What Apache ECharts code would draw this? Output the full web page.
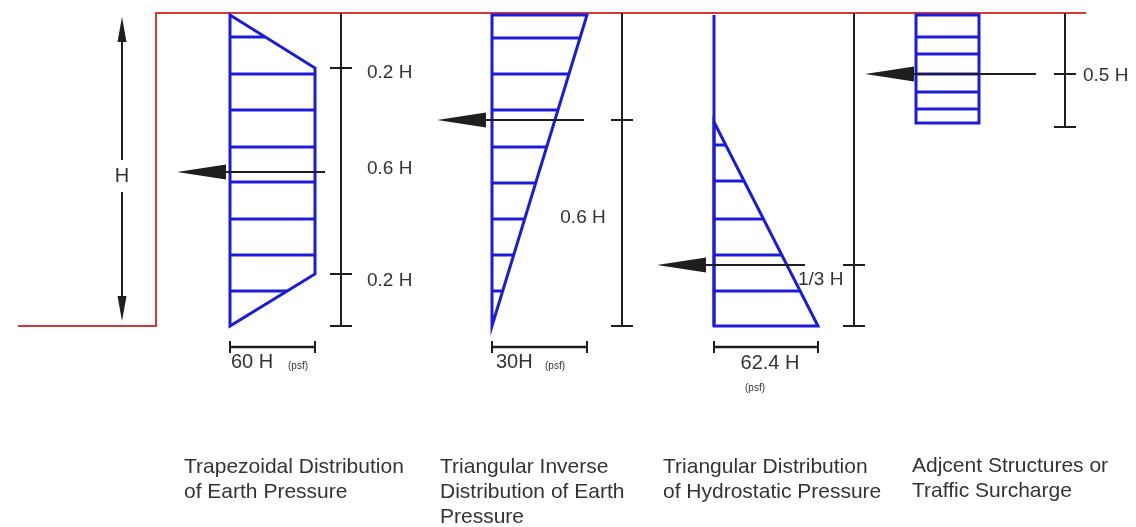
<!DOCTYPE html>
<html>
<head>
<meta charset="utf-8">
<script src="https://cdn.jsdelivr.net/npm/echarts@6/dist/echarts.min.js"></script>
<style>
html,body{margin:0;padding:0;background:#fff;}
#chart{width:1136px;height:527px;}
</style>
</head>
<body>
<div id="chart"></div>
<script>
// ---- data (diagram units = picture pixels) ----
const groundLine = [[18,326],[156,326],[156,13],[1086,13]];

const trapOutline = [[230,15],[315,68],[315,274],[230,326]];
const trapHatch = [[230,37,265],[230,74,315],[230,110,315],[230,147,315],[230,182,315],[230,219,315],[230,255,315],[230,291,287]];

const invOutline = [[492,15],[587,15],[492,326]];
const invHatch = [[492,38,580],[492,74,569],[492,110,558],[492,147,547],[492,183,536],[492,219,525],[492,255,514],[492,291,503]];

const hydroWall = [[714,15],[714,326]];
const hydroOutline = [[714,122],[818,326],[714,326]];
const hydroHatch = [[714,145,726],[714,181,744],[714,219,763],[714,255,782],[714,291,800]];

const surOutline = [[916,15],[979,15],[979,123],[916,123]];
const surHatch = [[916,37,979],[916,54,979],[916,74,979],[916,92,979],[916,109,979]];

// dimension lines: [x, yTop, yBottom], ticks: [x, y]
const dimLines = [[341,13,326],[622,13,326],[854,13,326],[1065,13,127]];
const dimTicks = [[341,68],[341,274],[341,326],[622,120],[622,326],[854,265],[854,326],[1065,74],[1065,127]];

// resultant force arrows: [tipX, y, tailX]
const forceArrows = [[177,172,325],[437,120,584],[657,265,805],[865,74,1036]];

// height arrow: [x, yTop, yBottom, gapTop, gapBottom]
const heightArrow = [122,17,321,160,192];

// scale bars: [x1, x2, y]
const scaleBars = [[230,315,347],[492,587,347],[714,818,347]];

// labels: [x, y, text, align, size]
const dimLabels = [
  [122,176,'H','center',20],
  [367,73,'0.2 H','left',19],
  [367,169,'0.6 H','left',19],
  [367,281,'0.2 H','left',19],
  [583,218,'0.6 H','center',19],
  [798,280,'1/3 H','left',19],
  [1083,76,'0.5 H','left',19],
  [231,362,'60 H','left',20],
  [496,362,'30H','left',20],
  [770,363,'62.4 H','center',20],
  [288,366,'(psf)','left',10],
  [545,366,'(psf)','left',10],
  [755,388,'(psf)','center',10]
];
const captions = [
  [184,467,'Trapezoidal Distribution'],
  [184,492,'of Earth Pressure'],
  [440,467,'Triangular Inverse'],
  [440,492,'Distribution of Earth'],
  [440,517,'Pressure'],
  [663,467,'Triangular Distribution'],
  [663,492,'of Hydrostatic Pressure'],
  [912,466,'Adjcent Structures or'],
  [912,491,'Traffic Surcharge']
];

// ---- styles ----
const BLUE = '#1c1cd6';
const RED = '#d23a3a';
const BLACK = '#1e1e1e';
const TEXT = '#333333';
const FONT = '"Liberation Sans", Arial, sans-serif';

function shapeSeries(points, closed, color, width) {
  return {
    type: 'custom', silent: true, clip: false,
    data: points,
    encode: {x: 0, y: 1},
    renderItem: function (params, api) {
      if (params.dataIndex !== 0) return null;
      const pts = points.map(p => api.coord(p));
      return {
        type: closed ? 'polygon' : 'polyline',
        shape: {points: pts},
        style: {stroke: color, fill: null, lineWidth: width, lineJoin: 'miter'}
      };
    }
  };
}
function hatchSeries(rows, color, width) {
  return {
    type: 'custom', silent: true, clip: false,
    data: rows,
    encode: {x: [0, 2], y: 1},
    renderItem: function (params, api) {
      const a = api.coord([api.value(0), api.value(1)]);
      const b = api.coord([api.value(2), api.value(1)]);
      return {type: 'line', shape: {x1: a[0], y1: a[1], x2: b[0], y2: b[1]},
        style: {stroke: color, lineWidth: width}};
    }
  };
}
function textSeries(rows, size, defaultAlign) {
  return {
    type: 'custom', silent: true, clip: false,
    data: rows.map(r => [r[0], r[1]]),
    encode: {x: 0, y: 1},
    renderItem: function (params, api) {
      const r = rows[params.dataIndex];
      const p = api.coord([r[0], r[1]]);
      return {type: 'text', x: p[0], y: p[1],
        style: {text: r[2], fill: TEXT, font: (r[4] || size) + 'px ' + FONT,
          textAlign: r[3] || defaultAlign, textVerticalAlign: 'middle'}};
    }
  };
}

const series = [
  shapeSeries(groundLine, false, RED, 2),
  shapeSeries(trapOutline, true, BLUE, 3),
  hatchSeries(trapHatch, BLUE, 3),
  shapeSeries(invOutline, true, BLUE, 3),
  hatchSeries(invHatch, BLUE, 3),
  shapeSeries(hydroWall, false, BLUE, 3),
  shapeSeries(hydroOutline, true, BLUE, 3),
  hatchSeries(hydroHatch, BLUE, 3),
  shapeSeries(surOutline, true, BLUE, 3),
  hatchSeries(surHatch, BLUE, 3),
  // dimension lines
  {
    type: 'custom', silent: true, clip: false,
    data: dimLines, encode: {x: 0, y: [1, 2]},
    renderItem: function (params, api) {
      const a = api.coord([api.value(0), api.value(1)]);
      const b = api.coord([api.value(0), api.value(2)]);
      return {type: 'line', shape: {x1: a[0], y1: a[1], x2: b[0], y2: b[1]},
        style: {stroke: BLACK, lineWidth: 2}};
    }
  },
  {
    type: 'custom', silent: true, clip: false,
    data: dimTicks, encode: {x: 0, y: 1},
    renderItem: function (params, api) {
      const a = api.coord([api.value(0), api.value(1)]);
      return {type: 'line', shape: {x1: a[0] - 11, y1: a[1], x2: a[0] + 11, y2: a[1]},
        style: {stroke: BLACK, lineWidth: 2}};
    }
  },
  // force arrows
  {
    type: 'custom', silent: true, clip: false,
    data: forceArrows, encode: {x: [0, 2], y: 1},
    renderItem: function (params, api) {
      const tip = api.coord([api.value(0), api.value(1)]);
      const tail = api.coord([api.value(2), api.value(1)]);
      return {type: 'group', children: [
        {type: 'line', shape: {x1: tip[0] + 30, y1: tip[1], x2: tail[0], y2: tail[1]},
          style: {stroke: BLACK, lineWidth: 2}},
        {type: 'polygon', shape: {points: [[tip[0], tip[1]], [tip[0] + 49, tip[1] - 7.5], [tip[0] + 49, tip[1] + 7.5]]},
          style: {fill: BLACK}}
      ]};
    }
  },
  // height arrow
  {
    type: 'custom', silent: true, clip: false,
    data: [[heightArrow[0], heightArrow[1]], [heightArrow[0], heightArrow[2]]],
    encode: {x: 0, y: 1},
    renderItem: function (params, api) {
      if (params.dataIndex !== 0) return null;
      const top = api.coord([heightArrow[0], heightArrow[1]]);
      const bot = api.coord([heightArrow[0], heightArrow[2]]);
      const g1 = api.coord([heightArrow[0], heightArrow[3]]);
      const g2 = api.coord([heightArrow[0], heightArrow[4]]);
      const x = top[0];
      return {type: 'group', children: [
        {type: 'line', shape: {x1: x, y1: top[1] + 10, x2: x, y2: g1[1]}, style: {stroke: BLACK, lineWidth: 2}},
        {type: 'line', shape: {x1: x, y1: g2[1], x2: x, y2: bot[1] - 10}, style: {stroke: BLACK, lineWidth: 2}},
        {type: 'polygon', shape: {points: [[x, top[1]], [x - 4.5, top[1] + 25], [x + 4.5, top[1] + 25]]}, style: {fill: BLACK}},
        {type: 'polygon', shape: {points: [[x, bot[1]], [x - 4.5, bot[1] - 25], [x + 4.5, bot[1] - 25]]}, style: {fill: BLACK}}
      ]};
    }
  },
  // scale bars
  {
    type: 'custom', silent: true, clip: false,
    data: scaleBars, encode: {x: [0, 1], y: 2},
    renderItem: function (params, api) {
      const a = api.coord([api.value(0), api.value(2)]);
      const b = api.coord([api.value(1), api.value(2)]);
      return {type: 'group', children: [
        {type: 'line', shape: {x1: a[0], y1: a[1], x2: b[0], y2: b[1]}, style: {stroke: BLACK, lineWidth: 2.5}},
        {type: 'line', shape: {x1: a[0], y1: a[1] - 6, x2: a[0], y2: a[1] + 6}, style: {stroke: BLACK, lineWidth: 2}},
        {type: 'line', shape: {x1: b[0], y1: b[1] - 6, x2: b[0], y2: b[1] + 6}, style: {stroke: BLACK, lineWidth: 2}}
      ]};
    }
  },
  textSeries(dimLabels, 19, 'left'),
  textSeries(captions, 21, 'left')
];

const chart = echarts.init(document.getElementById('chart'), null, {renderer: 'canvas'});
chart.setOption({
  animation: false,
  backgroundColor: '#ffffff',
  grid: {left: 0, right: 0, top: 0, bottom: 0},
  xAxis: {type: 'value', min: 0, max: 1136, show: false},
  yAxis: {type: 'value', min: 0, max: 527, inverse: true, show: false},
  series: series
});
</script>
</body>
</html>
